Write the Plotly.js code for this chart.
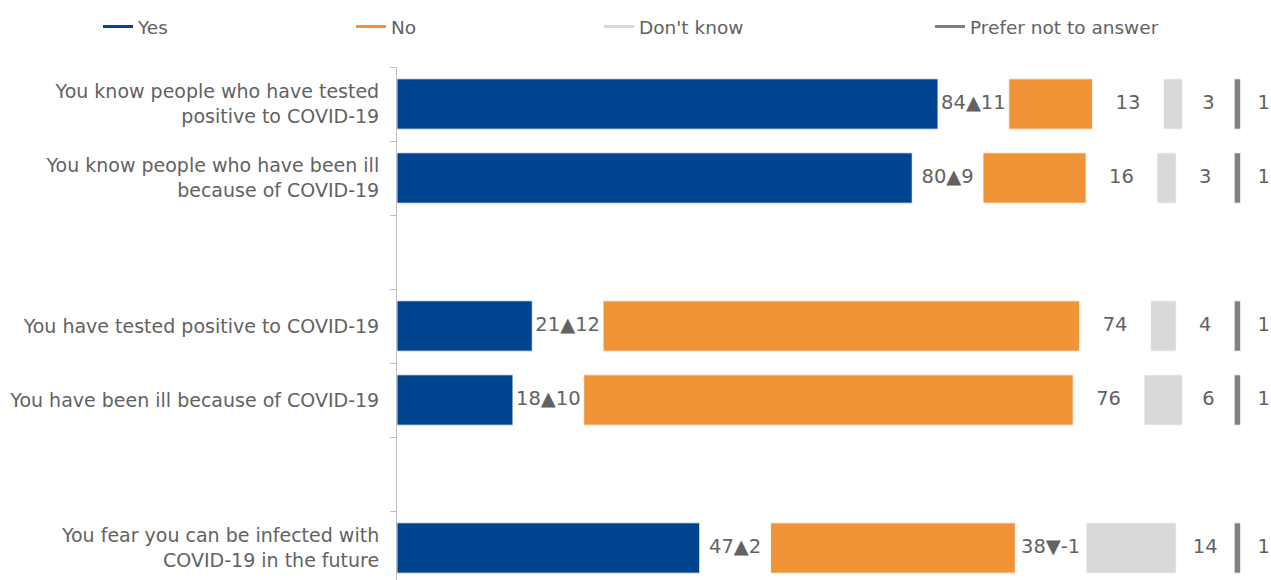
<!DOCTYPE html>
<html>
<head>
<meta charset="utf-8">
<script src="https://cdn.plot.ly/plotly-3.0.1.min.js"></script>
<style>html,body{margin:0;padding:0;background:#fff;}#chart{width:1271px;height:580px;}</style>
</head>
<body>
<div id="chart"></div>
<script>
// Categories (top to bottom); blank entries are spacer rows
const categories = [
  "You know people who have tested<br>positive to COVID-19",
  "You know people who have been ill<br>because of COVID-19",
  " ",
  "You have tested positive to COVID-19",
  "You have been ill because of COVID-19",
  "  ",
  "You fear you can be infected with<br>COVID-19 in the future"
];
const yesVals    = [84, 80, null, 21, 18, null, 47];
const noVals     = [13, 16, null, 74, 76, null, 38];
const dkVals     = [3, 3, null, 4, 6, null, 14];
const preferVals = [1, 1, null, 1, 1, null, 1];
const yesLabels    = ["84▲11", "80▲9", "", "21▲12", "18▲10", "", "47▲2"];
const noLabels     = ["13", "16", "", "74", "76", "", "38▼-1"];
const dkLabels     = ["3", "3", "", "4", "6", "", "14"];
const preferLabels = ["1", "1", "", "1", "1", "", "1"];

// layout helpers (spacing in axis units)
const GAP = 11;
const PREF_POS = 130;
const LABEL_OFF = 3.6;

const colors = {yes: "#00448F", no: "#F09437", dk: "#D9D9D9", pref: "#808080"};
const textColor = "#626262";
const FONT = "DejaVu Sans, Verdana, sans-serif";

const idx = categories.map((_, i) => i);
const has = i => yesVals[i] !== null;

const noBase = idx.map(i => has(i) ? yesVals[i] + GAP : null);
const dkBase = idx.map(i => has(i) ? yesVals[i] + noVals[i] + 2 * GAP : null);
const prefBase = idx.map(i => has(i) ? PREF_POS : null);

function barTrace(name, vals, base, color) {
  return {
    type: "bar", orientation: "h", name: name,
    y: categories, x: vals, base: base,
    marker: {color: color, line: {color: "#ffffff", width: 0.8}},
    showlegend: false, hoverinfo: "skip"
  };
}

const traces = [
  barTrace("Yes", yesVals, idx.map(i => has(i) ? 0 : null), colors.yes),
  barTrace("No", noVals, noBase, colors.no),
  barTrace("Don't know", dkVals, dkBase, colors.dk),
  barTrace("Prefer not to answer", preferVals, prefBase, colors.pref)
];

// line-style legend entries
const legendSpecs = [
  ["Yes", colors.yes, "legend"],
  ["No", colors.no, "legend2"],
  ["Don't know", colors.dk, "legend3"],
  ["Prefer not to answer", colors.pref, "legend4"]
];
legendSpecs.forEach(([n, c, l]) => traces.push({
  type: "scatter", mode: "lines", name: n, x: [null], y: [null],
  line: {color: c, width: 3}, legend: l, showlegend: true, hoverinfo: "skip"
}));

function textTrace(xs, labels) {
  return {
    type: "scatter", mode: "text", x: xs, y: categories, text: labels,
    textposition: "middle center", cliponaxis: false, showlegend: false,
    textfont: {family: FONT, size: 19.5, color: textColor}, hoverinfo: "skip"
  };
}
traces.push(textTrace(idx.map(i => has(i) ? yesVals[i] + GAP / 2 : null), yesLabels));
traces.push(textTrace(idx.map(i => has(i) ? yesVals[i] + GAP + noVals[i] + GAP / 2 : null), noLabels));
traces.push(textTrace(idx.map(i => has(i) ? (dkBase[i] + dkVals[i] + PREF_POS) / 2 : null), dkLabels));
traces.push(textTrace(idx.map(i => has(i) ? PREF_POS + preferVals[i] + LABEL_OFF : null), preferLabels));

const L = 397, W = 1271, T = 67, H = 580;
const plotW = W - L, plotH = H - T;
const px2x = p => (p - L) / plotW;
const legY = 1 + (T - 27) / plotH;
function leg(px) {
  return {x: px2x(px), xanchor: "left", y: legY, yanchor: "middle", orientation: "h",
    font: {family: FONT, size: 18.5, color: textColor}, bgcolor: "rgba(0,0,0,0)",
    itemwidth: 30, tracegroupgap: 0};
}

const layout = {
  width: W, height: H,
  margin: {l: L, r: 0, t: T, b: 0, pad: 0},
  paper_bgcolor: "#ffffff", plot_bgcolor: "#ffffff",
  barmode: "overlay", bargap: 0.32,
  font: {family: FONT, size: 19, color: textColor},
  xaxis: {range: [0, plotW / 6.44], visible: false, fixedrange: true},
  yaxis: {
    type: "category", categoryorder: "array", categoryarray: categories,
    range: [-0.5 + plotH / 74, -0.5],
    showline: true, linecolor: "#BFBFBF", linewidth: 1,
    ticks: "outside", ticklen: 6, tickcolor: "#BFBFBF", tickson: "boundaries",
    showgrid: false, zeroline: false, ticklabelstandoff: 13,
    tickfont: {family: FONT, size: 19, color: textColor}, fixedrange: true
  },
  legend: leg(98), legend2: leg(351), legend3: leg(599), legend4: leg(930),
  showlegend: true
};

Plotly.newPlot("chart", traces, layout, {displayModeBar: false, staticPlot: true});
</script>
</body>
</html>
